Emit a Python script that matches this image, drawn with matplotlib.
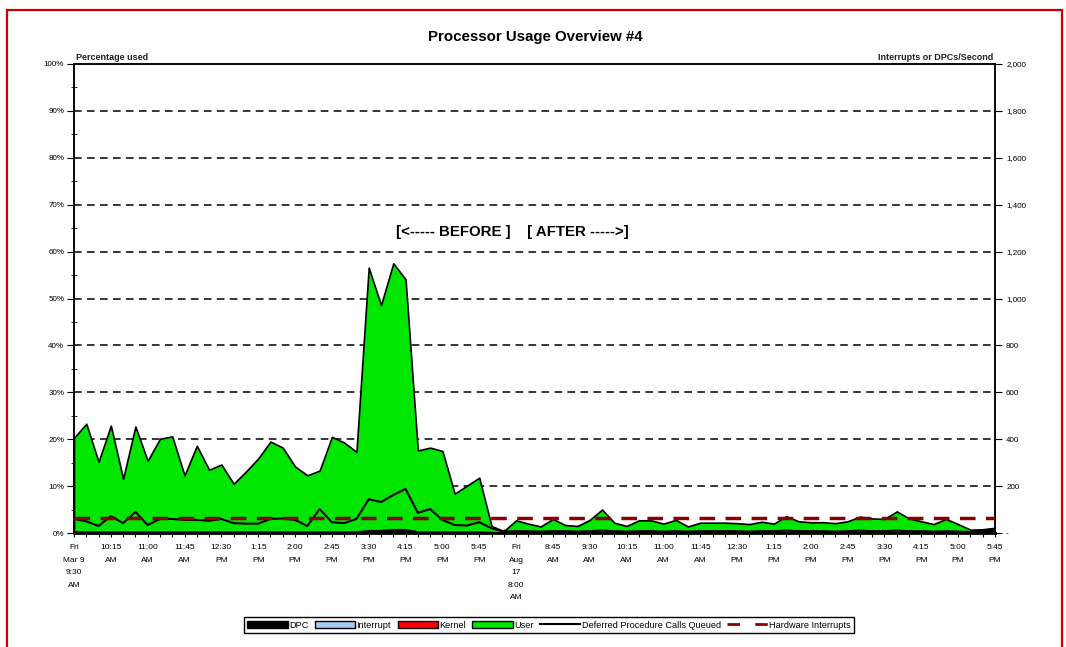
import matplotlib.pyplot as plt
from matplotlib.patches import Rectangle
from matplotlib.ticker import FuncFormatter, MultipleLocator

plt.rcParams['font.family'] = ['Liberation Sans', 'DejaVu Sans']

# x tick labels, one every 3 samples (15 minute samples)
tick_labels = ["Fri\nMar 9\n9:30\nAM", "10:15\nAM", "11:00\nAM", "11:45\nAM", "12:30\nPM",
               "1:15\nPM", "2:00\nPM", "2:45\nPM", "3:30\nPM", "4:15\nPM", "5:00\nPM",
               "5:45\nPM", "Fri\nAug\n17\n8:00\nAM", "8:45\nAM", "9:30\nAM", "10:15\nAM",
               "11:00\nAM", "11:45\nAM", "12:30\nPM", "1:15\nPM", "2:00\nPM", "2:45\nPM",
               "3:30\nPM", "4:15\nPM", "5:00\nPM", "5:45\nPM"]

# percentage used (left axis)
user = [20.0, 23.0, 14.9, 22.6, 11.3, 22.4, 15.1, 19.8, 20.3, 12.0, 18.3, 13.2, 14.3, 10.2,
        12.8, 15.6, 19.2, 17.9, 13.9, 12.0, 13.0, 20.2, 19.0, 17.0, 56.0, 48.0, 56.7, 53.3,
        17.3, 17.9, 17.2, 8.1, 9.8, 11.5, 1.3, 0.3,
        2.6, 1.9, 1.3, 2.9, 1.6, 1.4, 2.7, 4.9, 2.1, 1.4, 2.6, 2.6, 1.9, 2.7, 1.3, 2.1,
        2.1, 2.1, 2.0, 1.8, 2.3, 1.9, 3.5, 2.4, 2.2, 2.2, 2.0, 2.4, 3.4, 3.0, 2.9, 4.5,
        3.0, 2.4, 1.8, 2.9, 1.8, 0.5, 0.3, 0.2]
dpc = [0.3, 0.3, 0.3, 0.3, 0.3, 0.3, 0.3, 0.3, 0.3, 0.3, 0.3, 0.3, 0.3, 0.3,
       0.3, 0.3, 0.3, 0.3, 0.3, 0.3, 0.3, 0.3, 0.3, 0.3, 0.4, 0.4, 0.5, 0.5,
       0.3, 0.3, 0.3, 0.3, 0.3, 0.3, 0.2, 0.1,
       0.1, 0.1, 0.1, 0.1, 0.1, 0.1, 0.1, 0.1, 0.1, 0.1, 0.1, 0.1, 0.1, 0.1, 0.1, 0.1,
       0.1, 0.1, 0.1, 0.1, 0.1, 0.1, 0.1, 0.1, 0.1, 0.1, 0.1, 0.1, 0.1, 0.1, 0.1, 0.1,
       0.1, 0.1, 0.1, 0.1, 0.1, 0.2, 0.5, 0.9]
interrupt = [0.0, 0.0, 0.0, 0.0, 0.0, 0.0, 0.0, 0.0, 0.0, 0.0, 0.0, 0.0, 0.0, 0.0,
             0.0, 0.0, 0.0, 0.0, 0.0, 0.0, 0.0, 0.0, 0.0, 0.0, 0.0, 0.0, 0.0, 0.0,
             0.0, 0.0, 0.0, 0.0, 0.0, 0.0, 0.0, 0.0,
             0.0, 0.0, 0.0, 0.0, 0.0, 0.0, 0.0, 0.0, 0.0, 0.0, 0.0, 0.0, 0.0, 0.0, 0.0, 0.0,
             0.0, 0.0, 0.0, 0.0, 0.0, 0.0, 0.0, 0.0, 0.0, 0.0, 0.0, 0.0, 0.0, 0.0, 0.0, 0.0,
             0.0, 0.0, 0.0, 0.0, 0.0, 0.0, 0.0, 0.0]
kernel = [0.0, 0.0, 0.0, 0.0, 0.0, 0.0, 0.0, 0.0, 0.0, 0.0, 0.0, 0.0, 0.0, 0.0,
          0.0, 0.0, 0.0, 0.0, 0.0, 0.0, 0.0, 0.0, 0.0, 0.0, 0.2, 0.2, 0.3, 0.3,
          0.0, 0.0, 0.0, 0.0, 0.0, 0.0, 0.0, 0.0,
          0.0, 0.0, 0.0, 0.0, 0.0, 0.0, 0.0, 0.0, 0.0, 0.0, 0.0, 0.0, 0.0, 0.0, 0.0, 0.0,
          0.0, 0.0, 0.0, 0.0, 0.0, 0.0, 0.0, 0.0, 0.0, 0.0, 0.0, 0.0, 0.0, 0.0, 0.0, 0.0,
          0.0, 0.0, 0.0, 0.0, 0.0, 0.0, 0.0, 0.0]

# per second (right axis)
dpc_queued = [60, 50, 30, 72, 42, 90, 34, 60, 60, 56, 56, 52, 60, 42,
              40, 40, 60, 62, 56, 30, 102, 46, 42, 60, 144, 132, 162, 188,
              86, 102, 56, 34, 32, 46, 20, 6,
              8, 8, 6, 8, 8, 6, 8, 10, 8, 6, 8, 8, 6, 8, 6, 8,
              8, 8, 8, 6, 8, 8, 10, 8, 8, 8, 6, 8, 10, 8, 8, 10,
              8, 8, 6, 8, 6, 4, 10, 18]
hw_interrupts = [63, 63, 63, 63, 63, 63, 63, 63, 63, 63, 63, 63, 63, 63,
                 63, 63, 63, 63, 63, 63, 63, 63, 63, 63, 63, 63, 63, 63,
                 63, 63, 63, 63, 63, 63, 63, 63,
                 63, 63, 63, 63, 63, 63, 63, 63, 63, 63, 63, 63, 63, 63, 63, 63,
                 63, 63, 63, 63, 63, 63, 63, 63, 63, 63, 63, 63, 63, 63, 63, 63,
                 63, 63, 63, 63, 63, 63, 63, 63]

x = list(range(len(user)))

fig = plt.figure(figsize=(10.66, 6.47), dpi=100)
fig.patches.append(Rectangle((7 / 1066, -0.05), 1055 / 1066, 1.05 - 10 / 647, transform=fig.transFigure,
                             fill=False, edgecolor='#cc0000', linewidth=1.6))

ax = fig.add_axes([74 / 1066, 1 - 533 / 647, 921 / 1066, 469 / 647])
ax2 = ax.twinx()

ax.stackplot(x, dpc, interrupt, kernel, user,
             colors=['black', '#a6caf0', '#ff0000', '#00e600'],
             edgecolor='black', linewidth=1.2, zorder=2)

ax2.plot(x, dpc_queued, color='black', linewidth=1.5, zorder=3)
ax2.plot(x, hw_interrupts, color='#8b0000', linewidth=2.5, linestyle=(0, (4.5, 3)), zorder=3)

ax.set_xlim(0, 75)
ax.set_ylim(0, 100)
ax2.set_ylim(0, 2000)

for v in range(10, 100, 10):
    ax.axhline(v, color='black', linewidth=1.1, linestyle=(0, (5, 3.5)), zorder=1)

ax.yaxis.set_major_locator(MultipleLocator(10))
ax.yaxis.set_minor_locator(MultipleLocator(5))
ax.yaxis.set_major_formatter(FuncFormatter(lambda v, p: f"{int(v)}%"))
ax.tick_params(axis='y', which='major', direction='out', length=5, labelsize=5.8, pad=2)
ax.tick_params(axis='y', which='minor', direction='inout', length=5)

ax2.yaxis.set_major_locator(MultipleLocator(200))
ax2.yaxis.set_major_formatter(FuncFormatter(lambda v, p: "-" if v == 0 else f"{int(v):,}"))
ax2.tick_params(axis='y', direction='out', length=5, labelsize=5.8, pad=3)

ax.set_xticks(x)
ax.set_xticklabels([tick_labels[i // 3] if i % 3 == 0 else "" for i in x],
                   fontsize=6, linespacing=2.1, va='top')
ax.tick_params(axis='x', direction='inout', length=6, pad=5)

for a in (ax, ax2):
    for s in a.spines.values():
        s.set_color('black')
        s.set_linewidth(1.1)
ax.spines['bottom'].set_linewidth(2)

fig.text(535 / 1066, 1 - 37 / 647, "Processor Usage Overview #4", ha='center', va='center',
         fontsize=10.8, fontweight='bold')
fig.text(76 / 1066, 1 - 57 / 647, "Percentage used", ha='left', va='center',
         fontsize=6.5, fontweight='bold', color='#222222')
fig.text(993 / 1066, 1 - 57 / 647, "Interrupts or DPCs/Second", ha='right', va='center',
         fontsize=6.5, fontweight='bold', color='#222222')
ax.text(35.7, 64.2, "[<----- BEFORE ]    [ AFTER ----->]", ha='center', va='center',
        fontsize=10.8, fontweight='bold')

handles = [Rectangle((0, 0), 1, 1, facecolor='black', edgecolor='black'),
           Rectangle((0, 0), 1, 1, facecolor='#a6caf0', edgecolor='black'),
           Rectangle((0, 0), 1, 1, facecolor='#ff0000', edgecolor='black'),
           Rectangle((0, 0), 1, 1, facecolor='#00e600', edgecolor='black'),
           plt.Line2D([], [], color='black', linewidth=1.5),
           plt.Line2D([], [], color='#8b0000', linewidth=2, linestyle=(0, (4.5, 5.5)))]
names = ["DPC", "Interrupt", "Kernel", "User", "Deferred Procedure Calls Queued", "Hardware Interrupts"]
leg = fig.legend(handles, names, loc='center', bbox_to_anchor=(549 / 1066, 1 - 625 / 647), ncol=6,
                 fontsize=6.6, handlelength=4.4, handleheight=0.9, handletextpad=0.15,
                 columnspacing=0.7, borderpad=0.35, fancybox=False, framealpha=1)
leg.get_frame().set_edgecolor('black')
leg.get_frame().set_linewidth(1)

fig.savefig("out.png", dpi=100, facecolor='white')
